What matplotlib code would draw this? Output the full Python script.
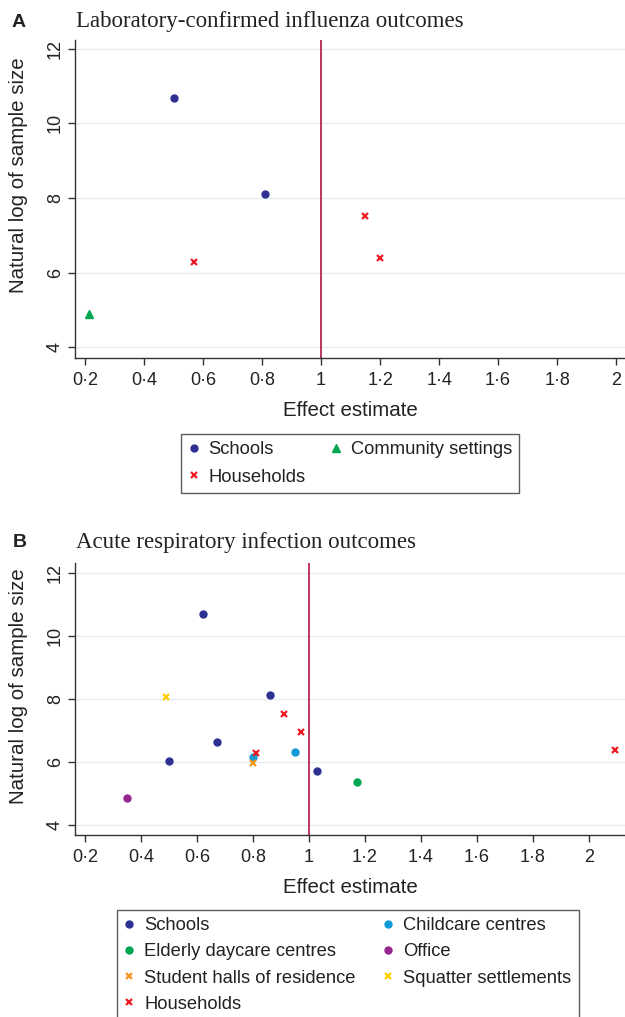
import matplotlib
matplotlib.use("Agg")
import matplotlib.pyplot as plt
from matplotlib.ticker import FuncFormatter

plt.rcParams['font.family'] = ['Liberation Sans', 'DejaVu Sans']

# Panel A: laboratory-confirmed influenza outcomes
a_schools_x = [0.50, 0.81]
a_schools_y = [10.68, 8.11]
a_households_x = [0.57, 1.15, 1.20]
a_households_y = [6.27, 7.51, 6.38]
a_community_x = [0.214]
a_community_y = [4.89]

# Panel B: acute respiratory infection outcomes
b_schools_x = [0.62, 0.86, 0.67, 0.50, 1.03]
b_schools_y = [10.69, 8.11, 6.64, 6.04, 5.72]
b_childcare_x = [0.80, 0.95]
b_childcare_y = [6.15, 6.32]
b_elderly_x = [1.17]
b_elderly_y = [5.35]
b_office_x = [0.35]
b_office_y = [4.85]
b_student_x = [0.80]
b_student_y = [5.95]
b_squatter_x = [0.49]
b_squatter_y = [8.06]
b_households_x = [0.91, 0.97, 0.81, 2.095]
b_households_y = [7.52, 6.95, 6.27, 6.38]

xticks = [0.2, 0.4, 0.6, 0.8, 1.0, 1.2, 1.4, 1.6, 1.8, 2.0]
yticks = [4, 6, 8, 10, 12]

NAVY = '#2e3192'
GREEN = '#00a651'
RED = '#ed1c24'
LIGHTBLUE = '#0f9bd7'
PURPLE = '#93278f'
ORANGE = '#f7941d'
YELLOW = '#ffcc00'
VLINE = '#b8264f'
GRID = '#e4ecf3'
SPINE = '#333333'
TXT = '#222222'


def fmt_tick(v, pos):
    s = ('%g' % round(v, 2))
    return s.replace('.', '\u00b7')


def style_axes(ax, xlim, ylim):
    ax.set_xlim(*xlim)
    ax.set_ylim(*ylim)
    ax.set_xticks(xticks)
    ax.set_yticks(yticks)
    ax.xaxis.set_major_formatter(FuncFormatter(fmt_tick))
    ax.grid(axis='y', color=GRID, lw=1.0, zorder=0)
    ax.set_axisbelow(True)
    for side in ['top', 'right']:
        ax.spines[side].set_visible(False)
    for side in ['left', 'bottom']:
        ax.spines[side].set_color(SPINE)
        ax.spines[side].set_linewidth(1.0)
    ax.tick_params(axis='both', direction='out', length=5, width=1.0,
                   color=SPINE, labelsize=13, labelcolor=TXT)
    ax.tick_params(axis='x', pad=5)
    ax.tick_params(axis='y', pad=3, labelrotation=90)
    for lab in ax.get_yticklabels():
        lab.set_va('center')
    ax.axvline(1.0, color=VLINE, lw=1.3, zorder=1)
    ax.set_xlabel('Effect estimate', fontsize=14.8, color=TXT, labelpad=9)


def make_legend(handles, top_left, colsp, lsp):
    leg = fig.legend(handles=handles, ncol=2, loc='upper left',
                     bbox_to_anchor=top_left, borderaxespad=0, fontsize=13.2,
                     frameon=True, fancybox=False, edgecolor=SPINE,
                     handlelength=0.6, handletextpad=0.5, columnspacing=colsp,
                     labelspacing=lsp, borderpad=0.4)
    leg.get_frame().set_linewidth(1.0)
    for t in leg.get_texts():
        t.set_color(TXT)
    return leg


fig = plt.figure(figsize=(6.25, 10.17), dpi=100)
W, H = 625.0, 1017.0

# ---- Panel A ----
axA = fig.add_axes([75 / W, 1 - 358 / H, 550 / W, 318 / H])
style_axes(axA, (0.166, 2.03), (3.71, 12.23))
hA1, = axA.plot(a_schools_x, a_schools_y, 'o', color=NAVY, ms=5, zorder=3,
                label='Schools')
hA2, = axA.plot(a_households_x, a_households_y, 'x', color=RED, ms=4.5,
                mew=1.6, zorder=3, label='Households')
hA3, = axA.plot(a_community_x, a_community_y, '^', color=GREEN, ms=6,
                zorder=3, label='Community settings')
fig.text(19 / W, 1 - 175 / H, 'Natural log of sample size', rotation=90,
         ha='center', va='center', fontsize=14.8, color=TXT)
fig.text(12 / W, 1 - 27 / H, 'A', fontsize=14, fontweight='bold',
         ha='left', va='baseline', color=TXT)
fig.text(76 / W, 1 - 27 / H, 'Laboratory-confirmed influenza outcomes',
         family='Liberation Serif', fontsize=16.5, ha='left', va='baseline',
         color=TXT)
make_legend([hA1, hA2, hA3], (181 / W, 1 - 434 / H), 1.35, 0.56)

# ---- Panel B ----
axB = fig.add_axes([75 / W, 1 - 835 / H, 550 / W, 272.3 / H])
style_axes(axB, (0.164, 2.129), (3.68, 12.32))
hB1, = axB.plot(b_schools_x, b_schools_y, 'o', color=NAVY, ms=5, zorder=3,
                label='Schools')
hB2, = axB.plot(b_childcare_x, b_childcare_y, 'o', color=LIGHTBLUE, ms=5,
                zorder=3, label='Childcare centres')
hB3, = axB.plot(b_elderly_x, b_elderly_y, 'o', color=GREEN, ms=5, zorder=3,
                label='Elderly daycare centres')
hB4, = axB.plot(b_office_x, b_office_y, 'o', color=PURPLE, ms=5, zorder=3,
                label='Office')
hB5, = axB.plot(b_student_x, b_student_y, 'x', color=ORANGE, ms=4.5,
                mew=1.6, zorder=3, label='Student halls of residence')
hB6, = axB.plot(b_squatter_x, b_squatter_y, 'x', color=YELLOW, ms=4.5,
                mew=1.6, zorder=3, label='Squatter settlements')
hB7, = axB.plot(b_households_x, b_households_y, 'x', color=RED, ms=4.5,
                mew=1.6, zorder=4, label='Households')
fig.text(19 / W, 1 - 686 / H, 'Natural log of sample size', rotation=90,
         ha='center', va='center', fontsize=14.8, color=TXT)
fig.text(13 / W, 1 - 547 / H, 'B', fontsize=14, fontweight='bold',
         ha='left', va='baseline', color=TXT)
fig.text(76 / W, 1 - 548 / H, 'Acute respiratory infection outcomes',
         family='Liberation Serif', fontsize=16.5, ha='left', va='baseline',
         color=TXT)
make_legend([hB1, hB3, hB5, hB7, hB2, hB4, hB6], (116.5 / W, 1 - 910 / H),
            1.5, 0.5)

fig.savefig('out.png', dpi=100)
